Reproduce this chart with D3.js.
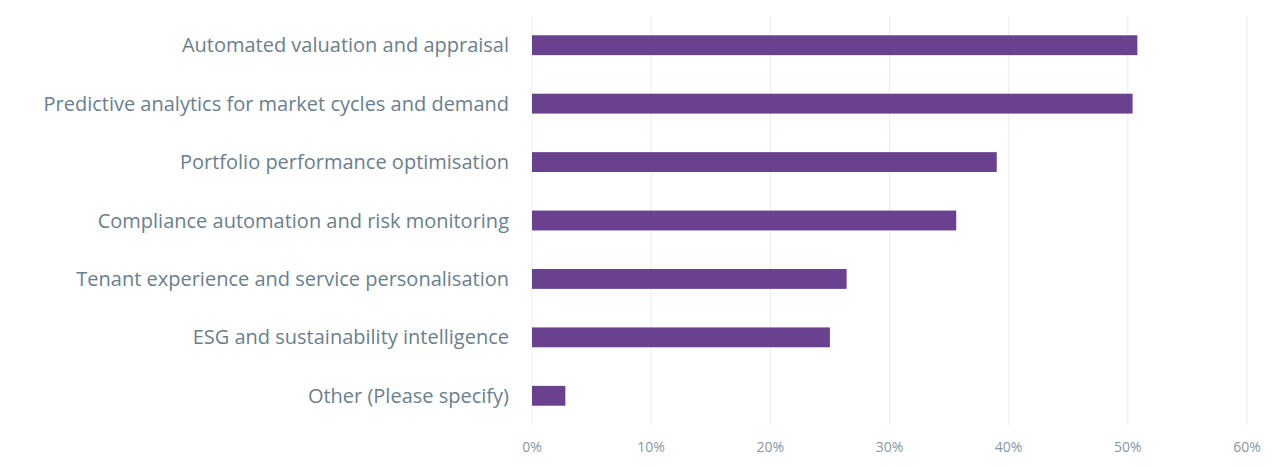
<!DOCTYPE html>
<html><head><meta charset="utf-8">
<script src="https://cdn.jsdelivr.net/npm/d3@7"></script>
<style>
body{margin:0;background:#fff;font-family:"Open Sans",sans-serif;}
</style></head><body>
<svg width="1280" height="467"></svg>
<script>
const categories = [
  "Automated valuation and appraisal",
  "Predictive analytics for market cycles and demand",
  "Portfolio performance optimisation",
  "Compliance automation and risk monitoring",
  "Tenant experience and service personalisation",
  "ESG and sustainability intelligence",
  "Other (Please specify)"
];
const values = [50.8, 50.4, 39.0, 35.6, 26.4, 25.0, 2.8];
const ticks = [0, 10, 20, 30, 40, 50, 60];

const svg = d3.select("svg");
const x = d3.scaleLinear().domain([0, 60]).range([532, 1247]);
const y = d3.scaleBand().domain(categories).range([16, 425])
  .paddingInner(0.66).paddingOuter(0.33);

svg.append("g").selectAll("line").data(ticks).enter().append("line")
  .attr("x1", d => x(d)).attr("x2", d => x(d))
  .attr("y1", 16).attr("y2", 425)
  .attr("stroke", "#ececec").attr("stroke-width", 1);

svg.append("g").selectAll("text").data(ticks).enter().append("text")
  .attr("x", d => x(d)).attr("y", 452)
  .attr("text-anchor", "middle")
  .attr("font-size", 14).attr("fill", "#8797a3")
  .text(d => d + "%");

svg.append("g").selectAll("rect").data(values).enter().append("rect")
  .attr("x", x(0))
  .attr("y", (d, i) => y(categories[i]))
  .attr("width", d => x(d) - x(0))
  .attr("height", y.bandwidth())
  .attr("fill", "#6a418f");

svg.append("g").selectAll("text").data(categories).enter().append("text")
  .attr("x", 509)
  .attr("y", d => y(d) + y.bandwidth() / 2)
  .attr("dy", "0.35em")
  .attr("text-anchor", "end")
  .attr("font-size", 20).attr("fill", "#6a7f8e")
  .text(d => d);
</script>
</body></html>
